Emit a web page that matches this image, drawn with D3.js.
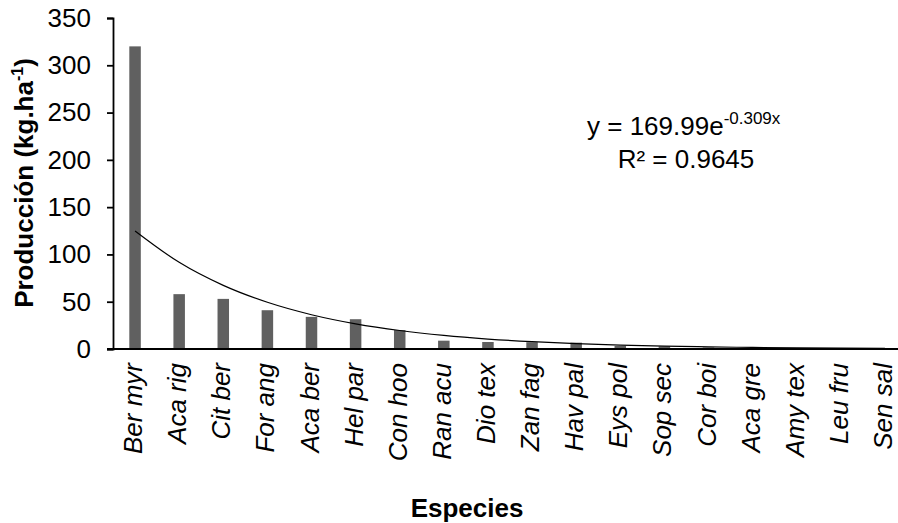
<!DOCTYPE html>
<html>
<head>
<meta charset="utf-8">
<script src="https://cdn.jsdelivr.net/npm/d3@7"></script>
<style>
  body { margin: 0; background: #fff; }
  text { font-family: Arial, "Liberation Sans", sans-serif; }
</style>
</head>
<body>
<div id="chart-area"></div>
<script>
// Data
var species = ["Ber myr", "Aca rig", "Cit ber", "For ang", "Aca ber", "Hel par",
  "Con hoo", "Ran acu", "Dio tex", "Zan fag", "Hav pal", "Eys pol", "Sop sec",
  "Cor boi", "Aca gre", "Amy tex", "Leu fru", "Sen sal"];
var production = [320, 58, 53, 41, 34, 31.5, 20, 8.8, 7.4, 7.2, 6.7, 3.2, 2.8,
  1.6, 1.1, 0.6, 0.4, 0.3];
var yTicks = [0, 50, 100, 150, 200, 250, 300, 350];
var trendA = 169.99, trendB = -0.309;

var W = 898, H = 523;
var svg = d3.select("#chart-area").append("svg")
  .attr("width", W)
  .attr("height", H);

// Scales
var x = d3.scaleBand()
  .domain(species)
  .range([113, 907]);

var y = d3.scaleLinear()
  .domain([0, 350])
  .range([349, 18]);

var barW = 11.5;

// Bars
svg.selectAll("rect.bar")
  .data(species)
  .enter()
  .append("rect")
    .attr("class", "bar")
    .attr("x", (d) => x(d) + x.bandwidth() / 2 - barW / 2)
    .attr("y", (d, i) => y(production[i]))
    .attr("width", barW)
    .attr("height", (d, i) => y(0) - y(production[i]))
    .attr("fill", "#606060");

// Trend line
var trend = species.map((d, i) => [x(d) + x.bandwidth() / 2, trendA * Math.exp(trendB * (i + 1))]);
svg.append("path")
  .attr("d", d3.line().x((d) => d[0]).y((d) => y(d[1])).curve(d3.curveMonotoneX)(trend))
  .attr("fill", "none")
  .attr("stroke", "#000")
  .attr("stroke-width", 1.2);

// Y axis
var yAxis = svg.append("g")
  .attr("transform", "translate(113,0)")
  .call(d3.axisLeft(y).tickValues(yTicks).tickSize(6).tickPadding(16));
yAxis.select(".domain").attr("stroke-width", 1.8);
yAxis.selectAll(".tick line").attr("stroke-width", 1.8);
yAxis.selectAll(".tick text")
  .attr("font-size", "26px")
  .attr("fill", "#000")
  .style("font-family", "Arial, 'Liberation Sans', sans-serif");

// X axis line
svg.append("line")
  .attr("x1", 107).attr("x2", W)
  .attr("y1", y(0)).attr("y2", y(0))
  .attr("stroke", "#000")
  .attr("stroke-width", 1.8);

// Category labels
svg.selectAll("text.cat")
  .data(species)
  .enter()
  .append("text")
    .attr("class", "cat")
    .attr("transform", (d) => "translate(" + (x(d) + x.bandwidth() / 2 + 7) + ",363) rotate(-90)")
    .attr("text-anchor", "end")
    .attr("font-size", "26px")
    .attr("font-style", "italic")
    .text((d) => d);

// Axis titles
svg.append("text")
  .attr("x", 467)
  .attr("y", 517)
  .attr("text-anchor", "middle")
  .attr("font-size", "26px")
  .attr("font-weight", "bold")
  .text("Especies");

var yTitle = svg.append("text")
  .attr("transform", "translate(33,183) rotate(-90)")
  .attr("text-anchor", "middle")
  .attr("font-size", "26px")
  .attr("font-weight", "bold");
yTitle.append("tspan").text("Producción (kg.ha");
yTitle.append("tspan").attr("font-size", "16px").attr("dy", -10).text("-1");
yTitle.append("tspan").attr("dy", 10).text(")");

// Equation
var eq = svg.append("text")
  .attr("x", 587)
  .attr("y", 135)
  .attr("font-size", "26px");
eq.append("tspan").text("y = 169.99e");
eq.append("tspan").attr("font-size", "17px").attr("dy", -11).text("-0.309x");

svg.append("text")
  .attr("x", 686)
  .attr("y", 168)
  .attr("text-anchor", "middle")
  .attr("font-size", "26px")
  .text("R² = 0.9645");
</script>
</body>
</html>
